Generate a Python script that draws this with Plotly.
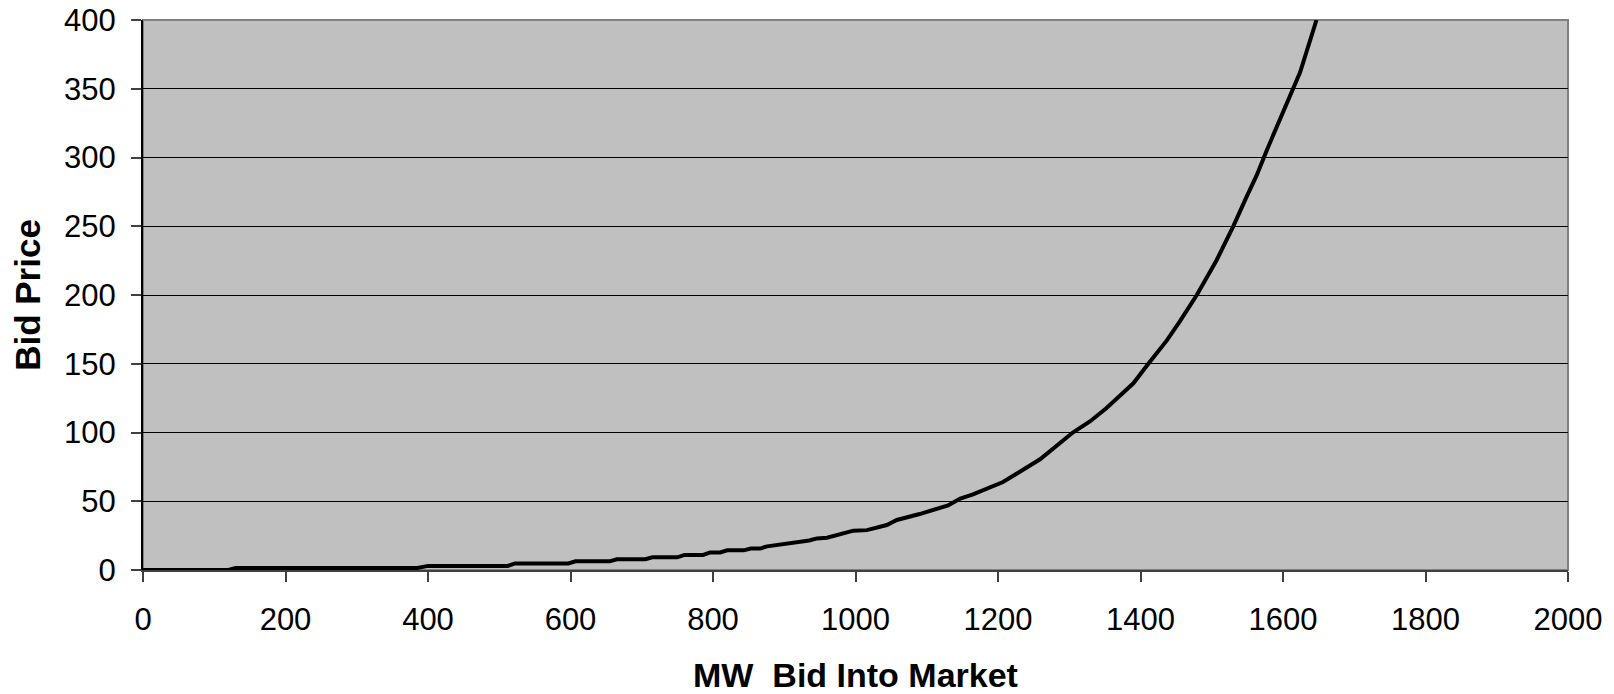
import plotly.graph_objects as go

# Supply curve (MW, bid price)
mw = [0, 120, 130, 385, 400, 512, 522, 597, 607, 655, 665, 705, 715, 750, 760,
      786, 796, 810, 820, 843, 853, 866, 876, 895, 908, 935, 946, 960, 997, 1016,
      1044, 1058, 1090, 1109, 1130, 1147, 1165, 1207, 1231, 1245, 1259, 1305,
      1329, 1352, 1390, 1411, 1437, 1455, 1479, 1507, 1530, 1549, 1563, 1577,
      1600, 1624, 1647]
price = [0, 0, 1.5, 1.5, 3, 3, 4.8, 4.8, 6.3, 6.3, 7.8, 7.8, 9.2, 9.2, 11,
         11, 12.8, 12.8, 14.3, 14.3, 15.6, 15.6, 17.2, 18.5, 20, 21.5, 23, 23.5, 28.6, 29,
         32.7, 36.4, 40.7, 44, 47, 52, 55, 64, 71.5, 76, 80.5, 100,
         108, 117.6, 135.8, 150, 167, 180.6, 200, 225.5, 249.7, 271.5, 287, 305,
         333, 362, 400]

x_ticks = [0, 200, 400, 600, 800, 1000, 1200, 1400, 1600, 1800, 2000]
y_ticks = [0, 50, 100, 150, 200, 250, 300, 350, 400]

FONT = "Liberation Sans, Arial, sans-serif"

fig = go.Figure()
fig.add_trace(go.Scatter(x=mw, y=price, mode="lines",
                         line=dict(color="black", width=4),
                         showlegend=False, hoverinfo="skip"))

# gray frame (top/right border)
fig.add_shape(type="rect", xref="paper", yref="paper", x0=0, y0=0, x1=1, y1=1,
              line=dict(color="#808080", width=2), layer="below")

fig.update_layout(
    width=1614, height=694,
    margin=dict(l=143, r=46, t=20, b=124),
    paper_bgcolor="white",
    plot_bgcolor="#C0C0C0",
    font=dict(family=FONT, color="black", size=31),
    xaxis=dict(
        range=[0, 2000], tickvals=x_ticks, ticktext=[str(v) for v in x_ticks],
        showgrid=False, zeroline=False, automargin=False,
        showline=True, linecolor="#404040", linewidth=2,
        ticks="outside", ticklen=10, tickcolor="#404040", tickwidth=2,
        tickfont=dict(size=31, family=FONT),
        ticklabelstandoff=11,
        title=dict(text="<b>MW  Bid Into Market</b>", font=dict(size=34, family=FONT),
                   standoff=35),
    ),
    yaxis=dict(
        range=[0, 400], tickvals=y_ticks, ticktext=[str(v) for v in y_ticks],
        showgrid=True, gridcolor="black", gridwidth=1, zeroline=False, automargin=False,
        showline=True, linecolor="black", linewidth=2,
        ticks="outside", ticklen=10, tickcolor="#404040", tickwidth=2,
        tickfont=dict(size=31, family=FONT),
        ticklabelstandoff=9,
        title=dict(text="<b>Bid Price</b>", font=dict(size=35, family=FONT),
                   standoff=13),
    ),
)

fig.write_html("out.html",
               config={"displayModeBar": False},
               post_script="document.body.style.margin='0';document.body.style.overflow='hidden';")
